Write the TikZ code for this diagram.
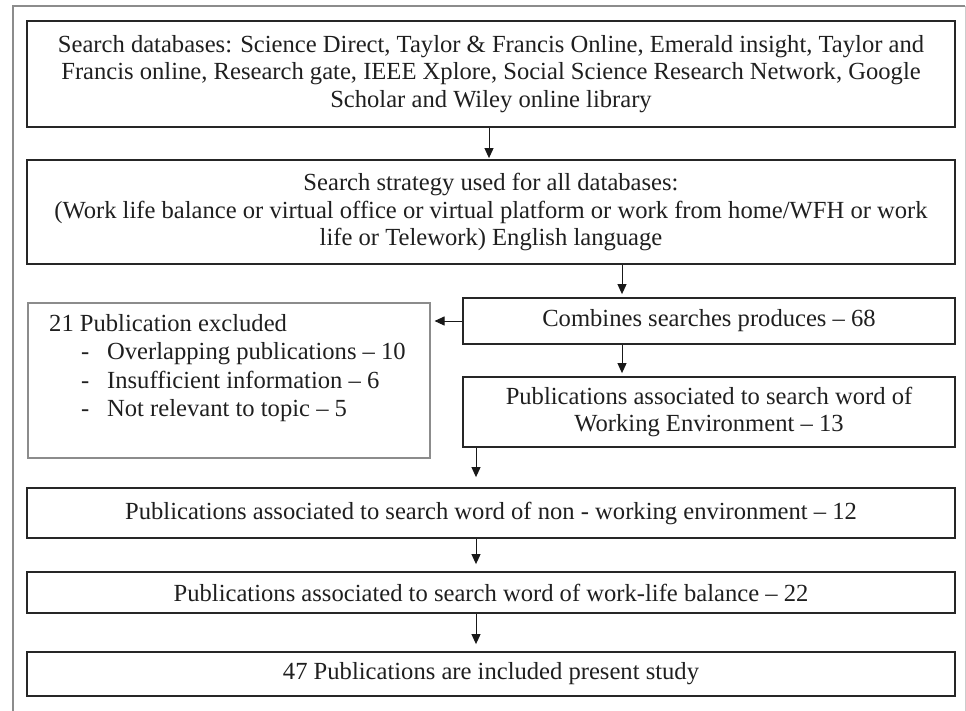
\documentclass[tikz,border=0pt]{standalone}
\usepackage{fontspec}
\setmainfont{Liberation Serif}
\usetikzlibrary{arrows.meta}
\begin{document}
\begin{tikzpicture}[x=1pt,y=1pt,
  every node/.style={font=\fontsize{24.6}{27.8}\selectfont, text=black!88},
  flowbox/.style={draw=black!85,line width=1.8pt,rectangle,inner sep=0pt,align=center},
  exbox/.style={draw=black!45,line width=1.1pt,rectangle,inner sep=0pt},
  arr/.style={draw=black!90,line width=1pt,-{Triangle[length=10pt,width=9pt]}},
  exline/.style={anchor=west,inner sep=0pt,text height=17pt,text depth=5pt}
]
\useasboundingbox (0,0) rectangle (966,-710);
\draw[black!45,line width=1.4pt] (13,-712) -- (13,-6) -- (965,-6);
\draw[black!20,line width=1pt] (965,-6) -- (965,-712);

\node[flowbox,minimum width=928pt,minimum height=106pt] (b1) at (491,-74)
  {Search databases: Science Direct, Taylor \& Francis Online, Emerald insight, Taylor and\\
   Francis online, Research gate, IEEE Xplore, Social Science Research Network, Google\\
   Scholar and Wiley online library};
\node[flowbox,minimum width=928pt,minimum height=104pt] (b2) at (491,-212)
  {Search strategy used for all databases:\\
   (Work life balance or virtual office or virtual platform or work from home/WFH or work\\
   life or Telework) English language};
\node[flowbox,minimum width=492pt,minimum height=46pt] (comb) at (709,-321)
  {Combines searches produces – 68};
\node[flowbox,minimum width=492pt,minimum height=70pt] (b4) at (709,-412)
  {Publications associated to search word of\\ Working Environment – 13};
\node[exbox,minimum width=402pt,minimum height=155pt] (ex) at (229,-380.5) {};
\node[exline] (e0) at (49,-325) {21 Publication excluded};
\node[exline] (e1) at (81,-353) {\makebox[26pt][l]{-}Overlapping publications – 10};
\node[exline] (e2) at (81,-382) {\makebox[26pt][l]{-}Insufficient information – 6};
\node[exline] (e3) at (81,-410) {\makebox[26pt][l]{-}Not relevant to topic – 5};
\node[flowbox,minimum width=928pt,minimum height=50pt] (b5) at (491,-513)
  {Publications associated to search word of non - working environment – 12};
\node[flowbox,minimum width=928pt,minimum height=41pt] (b6) at (491,-592.5)
  {Publications associated to search word of work-life balance – 22};
\node[flowbox,minimum width=928pt,minimum height=44pt] (b7) at (491,-674)
  {47 Publications are included present study};

\coordinate (xa) at (622,0);
\coordinate (xb) at (476,0);
\coordinate (xc) at (489,0);
\draw[arr] (xc |- b1.south) -- ([yshift=1pt]xc |- b2.north);
\draw[arr] (xa |- b2.south) -- ([yshift=3pt]xa |- comb.north);
\draw[arr] (comb.west) -- ([xshift=4pt]comb.west -| ex.east);
\draw[arr] (xa |- comb.south) -- ([yshift=3pt]xa |- b4.north);
\draw[arr] (xb |- b4.south) -- ([yshift=10pt]xb |- b5.north);
\draw[arr] (xb |- b5.south) -- ([yshift=7pt]xb |- b6.north);
\draw[arr] (xb |- b6.south) -- ([yshift=7pt]xb |- b7.north);
\end{tikzpicture}
\end{document}
